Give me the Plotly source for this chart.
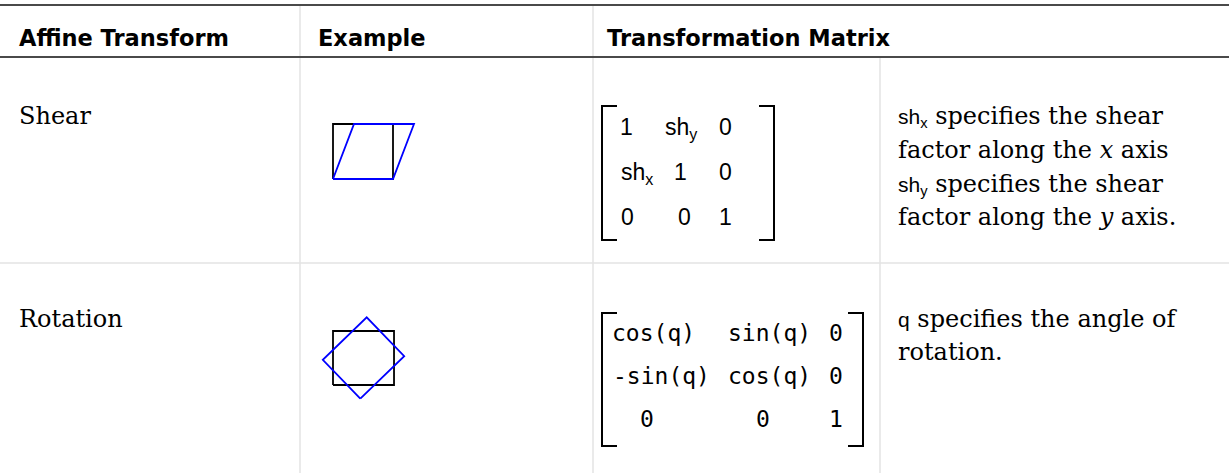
import numpy as np
import plotly.graph_objects as go

W, H = 1229, 473

# ---------------- data ----------------
header_labels = ["Affine Transform", "Example", "Transformation Matrix"]
transform_names = ["Shear", "Rotation"]

shear_matrix = [["1", "sh<sub>y</sub>", "0"],
                ["sh<sub>x</sub>", "1", "0"],
                ["0", "0", "1"]]
rotation_matrix = [["cos(q)", "sin(q)", "0"],
                   ["-sin(q)", "cos(q)", "0"],
                   ["0", "0", "1"]]

SANS_SPAN = '<span style="font-family:Liberation Sans;font-size:21px">'
shear_desc = [SANS_SPAN + "sh<sub>x</sub></span> specifies the shear",
              "factor along the <i>x</i> axis",
              SANS_SPAN + "sh<sub>y</sub></span> specifies the shear",
              "factor along the <i>y</i> axis."]
rotation_desc = [SANS_SPAN + "q</span> specifies the angle of",
                 "rotation."]

# example shapes (unit square / rectangle and the transform parameters)
square_x = [0, 1, 1, 0, 0]
square_y = [0, 0, 1, 1, 0]
shear_factor = 0.35
rect_w, rect_h = 1.13, 1.0
rotation_deg = 44.0

# ---------------- layout constants ----------------
SERIF = "DejaVu Serif"
SANS = "Liberation Sans"
MONO = "DejaVu Sans Mono"
HEAD = "DejaVu Sans"

fig = go.Figure()

def add_text(x, y_top, text, family, size, bold=False, color="#000"):
    fig.add_annotation(x=x, y=y_top, xref="x", yref="y", text=text,
                       xanchor="left", yanchor="top", showarrow=False,
                       borderpad=0, borderwidth=0,
                       font=dict(family=family, size=size, color=color,
                                 weight="bold" if bold else "normal"))

def hline(x0, x1, y, color, width):
    fig.add_shape(type="line", x0=x0, x1=x1, y0=y, y1=y, xref="x", yref="y",
                  line=dict(color=color, width=width))

def vline(x, y0, y1, color, width):
    fig.add_shape(type="line", x0=x, x1=x, y0=y0, y1=y1, xref="x", yref="y",
                  line=dict(color=color, width=width))

# table rules
GRID = "#e3e3e3"
hline(0, W, 5, "#4a4a4a", 2)
hline(0, W, 57, "#4a4a4a", 2)
for xs in (300, 593):
    vline(xs, 6, 56, GRID, 1.5)
for xs in (300, 593, 880):
    vline(xs, 58, H, GRID, 1.5)
hline(0, W, 263, GRID, 1.5)

# header
head_x = [19, 318, 607]
for lab, hx in zip(header_labels, head_x):
    add_text(hx, 24.6, lab, HEAD, 22.5, bold=True)

# row names
add_text(19, 101.5, transform_names[0], SERIF, 24)
add_text(19, 304.5, transform_names[1], SERIF, 24)

# descriptions
desc_x = 898
for line, top in zip(shear_desc, [101.5, 135.5, 169.5, 202.5]):
    add_text(desc_x, top, line, SERIF, 24)
for line, top in zip(rotation_desc, [304.5, 337.5]):
    add_text(desc_x, top, line, SERIF, 24)

# brackets
def bracket(xl, xr, y0, y1, tick=15):
    vline(xl, y0, y1, "#000", 2)
    hline(xl - 1, xl + tick, y0, "#000", 2)
    hline(xl - 1, xl + tick, y1, "#000", 2)
    vline(xr, y0, y1, "#000", 2)
    hline(xr - tick, xr + 1, y0, "#000", 2)
    hline(xr - tick, xr + 1, y1, "#000", 2)

bracket(602, 774, 106, 240)
bracket(602, 863, 313, 446)

# shear matrix entries
shear_cols = [[620, 665, 719], [621, 674, 719], [621, 678, 719]]
shear_tops = [114, 159, 204]
for r, row in enumerate(shear_matrix):
    for c, tok in enumerate(row):
        add_text(shear_cols[r][c], shear_tops[r], tok, SANS, 23)

# rotation matrix entries
rot_cols = [[612, 728, 829], [613, 728, 829], [640, 756, 829]]
rot_tops = [319.5, 362.5, 405.5]
for r, row in enumerate(rotation_matrix):
    for c, tok in enumerate(row):
        add_text(rot_cols[r][c], rot_tops[r], tok, MONO, 23)

# ---------------- example drawings on their own small axes ----------------
def example_axes(n, left, top, w, h, x0px, y0px, sx, sy):
    fig.update_layout(**{
        f"xaxis{n}": dict(domain=[left / W, (left + w) / W],
                          range=[(left - x0px) / sx, (left + w - x0px) / sx],
                          visible=False, fixedrange=True, anchor=f"y{n}"),
        f"yaxis{n}": dict(domain=[1 - (top + h) / H, 1 - top / H],
                          range=[(y0px - (top + h)) / sy, (y0px - top) / sy],
                          visible=False, fixedrange=True, anchor=f"x{n}"),
    })

# shear example
sq = np.vstack([square_x, square_y, np.ones(len(square_x))]).T
T_shear = np.array([[1, 0, 0], [shear_factor, 1, 0], [0, 0, 1]])
sh = sq @ T_shear
example_axes(2, 303, 94, 150, 120, 333, 179, 60, 55)
fig.add_trace(go.Scatter(x=square_x, y=square_y, mode="lines", xaxis="x2", yaxis="y2",
                         line=dict(color="#000", width=1.8), hoverinfo="skip", showlegend=False))
fig.add_trace(go.Scatter(x=sh[:, 0], y=sh[:, 1], mode="lines", xaxis="x2", yaxis="y2",
                         line=dict(color="#0000ff", width=1.8), hoverinfo="skip", showlegend=False))

# rotation example
rx = np.array(square_x) * rect_w
ry = np.array(square_y) * rect_h
cx, cy = rect_w / 2, rect_h / 2
q = np.deg2rad(rotation_deg)
rot_x = cx + (rx - cx) * np.cos(q) - (ry - cy) * np.sin(q)
rot_y = cy + (rx - cx) * np.sin(q) + (ry - cy) * np.cos(q)
example_axes(3, 300, 295, 140, 125, 333, 385, 54, 54)
fig.add_trace(go.Scatter(x=rx, y=ry, mode="lines", xaxis="x3", yaxis="y3",
                         line=dict(color="#000", width=1.8), hoverinfo="skip", showlegend=False))
fig.add_trace(go.Scatter(x=rot_x, y=rot_y, mode="lines", xaxis="x3", yaxis="y3",
                         line=dict(color="#0000ff", width=1.8), hoverinfo="skip", showlegend=False))

fig.update_layout(
    width=W, height=H, margin=dict(l=0, r=0, t=0, b=0),
    paper_bgcolor="white", plot_bgcolor="white", showlegend=False,
    xaxis=dict(range=[0, W], visible=False, fixedrange=True, domain=[0, 1]),
    yaxis=dict(range=[H, 0], visible=False, fixedrange=True, domain=[0, 1]),
)

fig.write_html("out.html", config={"displayModeBar": False, "staticPlot": True},
               post_script="document.body.style.margin='0px';document.body.style.overflow='hidden';")
